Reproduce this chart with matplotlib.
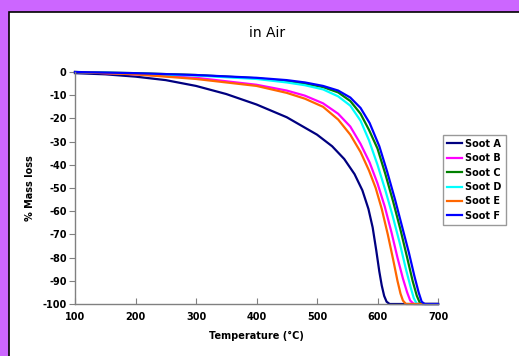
import matplotlib
matplotlib.use("Agg")
import matplotlib.pyplot as plt
from matplotlib.patches import Rectangle

plt.rcParams['font.family'] = ['DejaVu Sans']
plt.rcParams['axes.unicode_minus'] = False

# Mass loss curves (temperature in °C, % mass loss)
temp_a = [100, 150, 200, 250, 300, 350, 400, 450, 500, 525, 545, 562, 575, 585, 592, 598, 603, 607, 611, 615, 620, 700]
loss_a = [-0.5, -1, -2, -3.5, -6, -9.5, -14, -19.5, -27, -32, -37.5, -44, -51, -59, -67, -77, -86, -92, -96.5, -99, -100, -100]

temp_b = [100, 200, 300, 400, 450, 480, 510, 535, 555, 572, 587, 600, 612, 623, 633, 642, 649, 654, 660, 700]
loss_b = [0, -1, -2.5, -5.5, -8, -10.2, -13.5, -18, -23.5, -31, -39, -48, -58, -69, -80, -89, -95, -98.5, -100, -100]

temp_c = [100, 200, 300, 400, 450, 480, 510, 535, 555, 572, 586, 600, 613, 626, 638, 649, 658, 665, 670, 674, 700]
loss_c = [0, -0.5, -1.3, -2.7, -4, -5, -6.5, -8.8, -12.5, -18, -25, -33, -44, -56, -68, -80, -90, -96.5, -99.5, -100, -100]

temp_d = [100, 200, 300, 400, 450, 480, 510, 535, 555, 572, 586, 600, 613, 625, 637, 647, 655, 660, 665, 700]
loss_d = [0, -0.7, -1.5, -3, -4.5, -5.7, -7.5, -10.5, -14.5, -21, -29.5, -40, -51, -62, -74, -85, -93, -97.5, -100, -100]

temp_e = [100, 200, 300, 400, 450, 480, 510, 535, 555, 572, 586, 597, 607, 617, 626, 633, 638, 642, 647, 700]
loss_e = [0, -1, -3, -6, -9, -11.5, -15, -20.5, -27, -34.5, -42.5, -50, -59, -70, -81, -90, -95.5, -98.5, -100, -100]

temp_f = [100, 200, 300, 400, 450, 480, 510, 535, 555, 572, 587, 603, 616, 629, 641, 652, 661, 668, 673, 678, 700]
loss_f = [0, -0.5, -1.3, -2.5, -3.5, -4.5, -6, -8, -11, -15.5, -22, -32, -43, -55, -67, -78, -88, -95, -99, -100, -100]

labels = ['Soot A', 'Soot B', 'Soot C', 'Soot D', 'Soot E', 'Soot F']
colors = ['#000080', '#FF00FF', '#008000', '#00FFFF', '#FF6600', '#0000FF']

fig = plt.figure(figsize=(5.19, 3.56), dpi=100)
fig.patch.set_facecolor('#CC66FF')

# white panel with black border on the left and top
fig.patches.append(Rectangle((9 / 519, -0.01), 1, 1.01 - 12 / 356, transform=fig.transFigure,
                             facecolor='white', edgecolor='black', linewidth=1.2, zorder=-10))

ax = fig.add_axes([75 / 519, 1 - 304 / 356, (438 - 75) / 519, (304 - 72) / 356])
ax.set_zorder(5)
ax.set_facecolor('white')

series = [(temp_a, loss_a), (temp_b, loss_b), (temp_c, loss_c),
          (temp_d, loss_d), (temp_e, loss_e), (temp_f, loss_f)]
for (t, m), lab, col in zip(series, labels, colors):
    ax.plot(t, m, color=col, lw=1.6, label=lab, clip_on=False)

ax.set_xlim(100, 700)
ax.set_ylim(-100, 0)
ax.set_xticks(range(100, 701, 100))
ax.set_yticks(range(-100, 1, 10))

for s in ['top', 'right']:
    ax.spines[s].set_visible(False)
for s in ['left', 'bottom']:
    ax.spines[s].set_color('#808080')
    ax.spines[s].set_linewidth(1.0)

ax.tick_params(axis='y', direction='out', length=4, color='#808080', labelsize=7, pad=2)
ax.tick_params(axis='x', direction='in', length=4, color='#808080', labelsize=7, pad=6)
for lbl in ax.get_xticklabels() + ax.get_yticklabels():
    lbl.set_fontweight('bold')

ax.set_xlabel('Temperature (°C)', fontsize=7, fontweight='bold', labelpad=6)
ax.set_ylabel('% Mass loss', fontsize=7, fontweight='bold', labelpad=5)
fig.text(267 / 519, 1 - 33 / 356, 'in Air', ha='center', va='center', fontsize=10)

leg = fig.legend(loc='upper left', bbox_to_anchor=(443 / 519, 1 - 135 / 356),
                 prop={'weight': 'bold', 'size': 7}, frameon=True, fancybox=False,
                 handlelength=1.6, handletextpad=0.3, borderpad=0.4, labelspacing=0.45,
                 borderaxespad=0)
leg.get_frame().set_edgecolor('#808080')
leg.get_frame().set_linewidth(1.0)

fig.savefig('out.png', dpi=100, facecolor=fig.get_facecolor())
